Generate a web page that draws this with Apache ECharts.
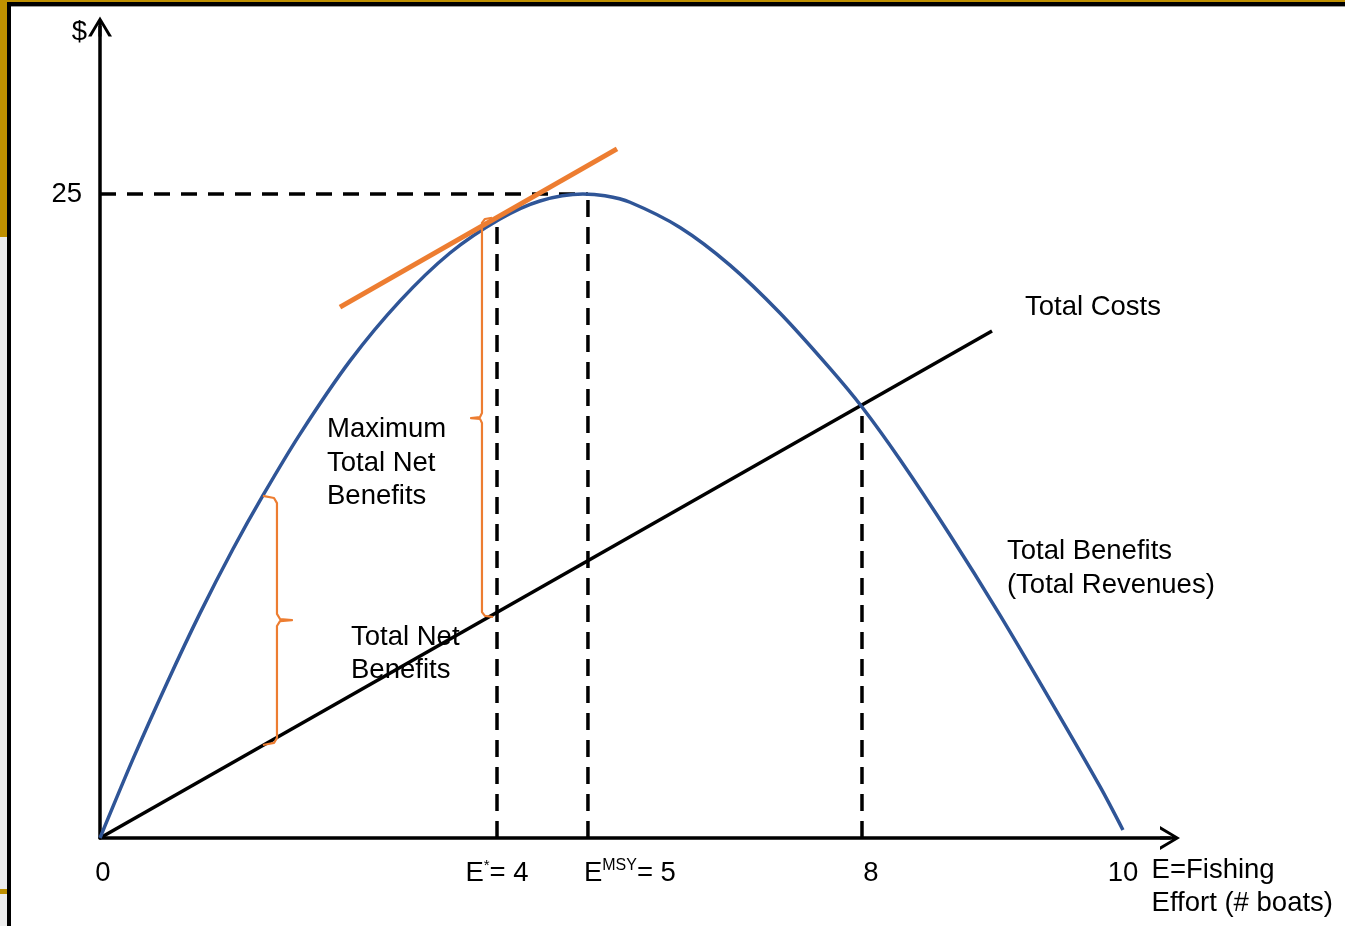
<!DOCTYPE html>
<html><head><meta charset="utf-8">
<script src="https://cdn.jsdelivr.net/npm/echarts@6/dist/echarts.min.js"></script>
<style>html,body{margin:0;padding:0;background:#fff}#c{width:1345px;height:926px}</style>
</head><body><div id="c"></div>
<script>
// ---- data (x = effort, y = $) ----
const tbEffort = [0, 0.323, 0.655, 0.978, 1.300, 1.593, 1.955, 2.444, 2.933, 3.421, 3.910, 4.301, 4.721, 4.936, 5.181, 5.670, 6.158, 6.647, 7.136, 7.449, 7.820, 8.309, 8.798, 9.286, 9.775, 10.0];
const tbValue  = [0, 3.07, 6.02, 8.73, 11.22, 13.30, 15.68, 18.52, 20.85, 22.71, 24.03, 24.73, 25.00, 24.93, 24.68, 23.70, 22.24, 20.38, 18.23, 16.73, 14.69, 11.76, 8.65, 5.37, 2.00, 0.31];
const tcEffort = [0, 8.72];
const tcValue  = [0, 19.68];
const tangentEffort = [2.346, 5.054];
const tangentValue  = [20.61, 26.75];
const dropEffort = [3.881, 4.770, 7.449];
const dropValue  = [23.91, 25, 16.73];
const refLevel = 25;
const refEnd = 4.770;
const xTickValues = [0.029, 3.881, 5.18, 7.537, 10.0];
const xTickLabels = ['0', 'E{s|*}= 4', 'E{m|MSY}= 5', '8', '10'];
const yTickValues = [25];
const yTickLabels = ['25'];
const braceLowX = [1.593, 1.701, 1.730, 1.730, 1.760, 1.877, 1.760, 1.730, 1.730, 1.701, 1.593];
const braceLowY = [13.28, 13.20, 13.00, 8.70, 8.50, 8.46, 8.42, 8.23, 3.88, 3.69, 3.61];
const braceHighX = [3.832, 3.763, 3.734, 3.734, 3.715, 3.627, 3.715, 3.734, 3.734, 3.763, 3.842];
const braceHighY = [24.07, 24.03, 23.88, 16.50, 16.34, 16.30, 16.27, 16.11, 8.77, 8.62, 8.58];
const noteText = ['Total Costs', 'Maximum\nTotal Net\nBenefits', 'Total Net\nBenefits', 'Total Benefits\n(Total Revenues)', 'E=Fishing\nEffort (# boats)', '$'];
const noteX = [9.042, 2.219, 2.454, 8.866, 10.28, -0.127];
const noteY = [20.61, 14.56, 7.14, 10.46, -1.90, 31.29];
const noteSide = ['right', 'right', 'right', 'right', 'right', 'left'];

const FONT = '"Liberation Sans", Arial, sans-serif';
const FS = 27.5;
const zip = (xs, ys) => xs.map((x, i) => [x, ys[i]]);
const chevron = 'path://M0,20 L12,0 L24,20 L20.5,20 L13.5,8 L13.5,20 L10.5,20 L10.5,8 L3.5,20 Z';

const series = [];
// dashed guides
series.push({ type: 'line', data: [[0, refLevel], [refEnd, refLevel]], symbol: 'none', silent: true,
  lineStyle: { color: '#000', width: 3.5, type: [16, 11] }, z: 2 });
dropEffort.forEach((x, i) => series.push({ type: 'line', data: [[x, 0], [x, dropValue[i]]], symbol: 'none', silent: true,
  lineStyle: { color: '#000', width: 3.5, type: [17, 10] }, z: 2 }));
// total costs
series.push({ type: 'line', data: zip(tcEffort, tcValue), symbol: 'none', silent: true,
  lineStyle: { color: '#000', width: 3.5 }, z: 3 });
// total benefits
series.push({ type: 'line', data: zip(tbEffort, tbValue), symbol: 'none', smooth: 0.3, silent: true,
  lineStyle: { color: '#2F5597', width: 3.5 }, z: 4 });
// tangent
series.push({ type: 'line', data: zip(tangentEffort, tangentValue), symbol: 'none', silent: true,
  lineStyle: { color: '#ED7D31', width: 5 }, z: 5 });
// braces
series.push({ type: 'line', data: zip(braceLowX, braceLowY), symbol: 'none', silent: true,
  lineStyle: { color: '#ED7D31', width: 2.2, join: 'round' }, z: 5 });
series.push({ type: 'line', data: zip(braceHighX, braceHighY), symbol: 'none', silent: true,
  lineStyle: { color: '#ED7D31', width: 2.2, join: 'round' }, z: 5 });
// annotations
series.push({ type: 'scatter', symbolSize: 0, clip: false, silent: true, z: 6,
  itemStyle: { opacity: 1, color: 'rgba(0,0,0,0)' },
  data: noteText.map((t, i) => ({ value: [noteX[i], noteY[i]],
    label: { show: true, formatter: t, position: noteSide[i], distance: 0, align: noteSide[i] === 'left' ? 'right' : 'left',
      color: '#000', opacity: 1, fontFamily: FONT, fontSize: FS, lineHeight: 33.5 } })) });

const option = {
  animation: false,
  backgroundColor: '#fff',
  grid: { left: 100, right: 175, top: 26.56, bottom: 88, outerBoundsMode: 'none' },
  xAxis: { type: 'value', min: 0, max: 10.46,
    axisLine: { show: true, onZero: false, lineStyle: { color: '#000', width: 3.5 }, symbol: ['none', chevron], symbolSize: [24, 20] },
    axisTick: { show: false }, splitLine: { show: false },
    axisLabel: { customValues: xTickValues, margin: 20, color: '#000', fontFamily: FONT, fontSize: FS, lineHeight: 30,
      formatter: (v) => { let k = 0, d = 1e9; xTickValues.forEach((t, i) => { if (Math.abs(t - v) < d) { d = Math.abs(t - v); k = i; } }); return xTickLabels[k]; },
      rich: { s: { fontFamily: FONT, fontSize: 15, lineHeight: 15, verticalAlign: 'top', color: '#000' },
              m: { fontFamily: FONT, fontSize: 16, lineHeight: 16, verticalAlign: 'top', color: '#000' } } } },
  yAxis: { type: 'value', min: 0, max: 31.5,
    axisLine: { show: true, onZero: false, lineStyle: { color: '#000', width: 3.5 }, symbol: ['none', chevron], symbolSize: [24, 20] },
    axisTick: { show: false }, splitLine: { show: false },
    axisLabel: { customValues: yTickValues, margin: 18, color: '#000', fontFamily: FONT, fontSize: FS,
      formatter: (v) => yTickLabels[yTickValues.indexOf(v)] ?? '' } },
  graphic: [
    { type: 'rect', silent: true, z: -10, shape: { x: 0, y: 0, width: 8, height: 237 }, style: { fill: '#BF9000' } },
    { type: 'rect', silent: true, z: -10, shape: { x: 0, y: 0, width: 1345, height: 3 }, style: { fill: '#BF9000' } },
    { type: 'rect', silent: true, z: -10, shape: { x: 0, y: 237, width: 7, height: 689 }, style: { fill: '#EDEDED' } },
    { type: 'rect', silent: true, z: -10, shape: { x: 0, y: 889, width: 7, height: 5 }, style: { fill: '#BF9000' } },
    { type: 'rect', silent: true, z: -9, shape: { x: 7, y: 2, width: 1338, height: 4 }, style: { fill: '#000' } },
    { type: 'rect', silent: true, z: -9, shape: { x: 7, y: 6, width: 1338, height: 1 }, style: { fill: '#999' } },
    { type: 'rect', silent: true, z: -9, shape: { x: 7, y: 2, width: 4, height: 924 }, style: { fill: '#000' } }
  ],
  series
};
const chart = echarts.init(document.getElementById('c'), null, { renderer: 'canvas' });
chart.setOption(option);
</script></body></html>
